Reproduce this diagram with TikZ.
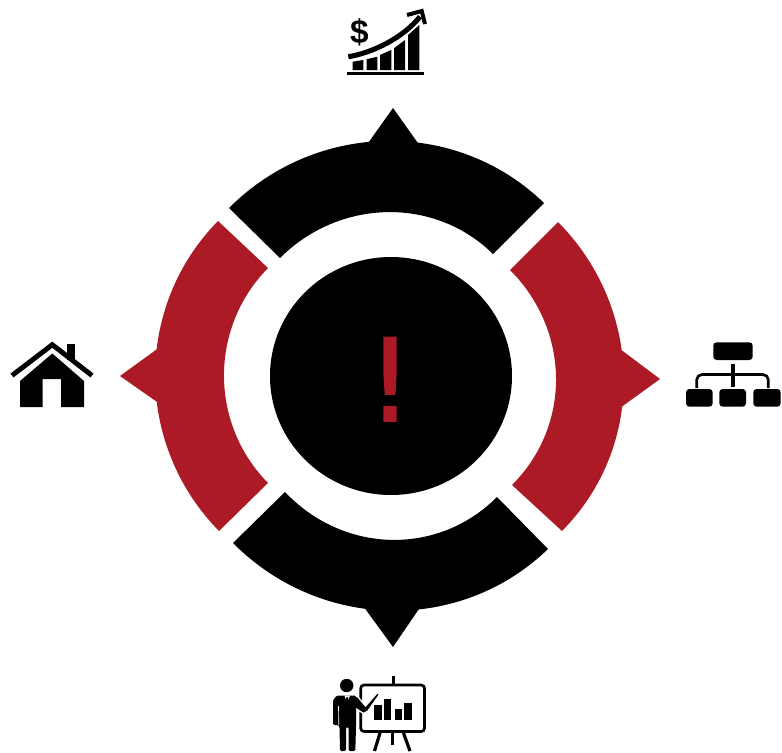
\documentclass[tikz,border=0pt]{standalone}
\usepackage{fontspec}
\setmainfont{DejaVu Sans}
\newfontfamily\markfont[FakeBold=1.5]{DejaVu Sans}
\newfontfamily\dollarfont{Liberation Sans}
\definecolor{brick}{HTML}{AC1A25}
\tikzset{
  ink/.style={fill=black,draw=none},
  brickfill/.style={fill=brick,draw=none},
  inkline/.style={draw=black,line cap=butt,line join=miter},
}
\begin{document}
\begin{tikzpicture}[x=0.75pt,y=-0.75pt]
\useasboundingbox (0,0) rectangle (782,753);
% ring segments
\path[ink] (229,208) .. controls (316.4,120.5) and (456.6,118.3) .. (544,203) -- (493,254)
  .. controls (434,196) and (339,199) .. (280,258) -- cycle;
\path[ink] (366,146) -- (393,108) -- (420,146) -- cycle;
\path[ink] (233,543) .. controls (320.4,631) and (460.6,633.5) .. (548,549) -- (497,497)
  .. controls (438.2,556) and (343.8,554) .. (285,492) -- cycle;
\path[ink] (361,603) -- (393,647) -- (423,603) -- cycle;
\path[brickfill] (218,221) .. controls (133.5,307) and (134.5,445) .. (219,531) -- (268,483)
  .. controls (209.3,423.3) and (209.3,327.7) .. (268,268) -- cycle;
\path[brickfill] (160,347) -- (120,376) -- (160,404) -- cycle;
\path[brickfill] (558,222) .. controls (643,307.7) and (647,445) .. (562,531) -- (512,485)
  .. controls (572,425) and (570,330) .. (510,270) -- cycle;
\path[brickfill] (620,349) -- (660,379) -- (620,408) -- cycle;
% centre
\path[ink] (391,376) ellipse [x radius=121,y radius=119];
\node[text=brick,inner sep=0pt,anchor=base] (mark) at (390,421) {\markfont\fontsize{86}{86}\selectfont !};
% top icon
\path[ink] (347,72) rectangle (424,75);
\path[ink] (352.7,61.7) -- (363.3,60) -- (363.3,70) -- (352.7,70) -- cycle;
\path[ink] (366.7,59.3) -- (377.3,56.7) -- (377.3,70) -- (366.7,70) -- cycle;
\path[ink] (380,55) -- (391.3,50) -- (391.3,70) -- (380,70) -- cycle;
\path[ink] (394,48.3) -- (405,40) -- (405,70) -- (394,70) -- cycle;
\path[ink] (408,35) -- (419.3,25) -- (419.3,70) -- (408,70) -- cycle;
\draw[draw=white,line width=5.4pt] (348.3,56.7) .. controls (372,53) and (403,38) .. (420,16.7);
\draw[inkline,line width=3.8pt] (348.3,56.7) .. controls (372,53) and (403,38) .. (420,16.7);
\draw[inkline,line width=3pt] (407,15) -- (421.7,11) -- (425,24);
\node[inner sep=0pt,anchor=center] (dollar) at (359.5,32) {\dollarfont\fontsize{25}{25}\selectfont\bfseries \$};
% house icon
\draw[inkline,line width=3.7pt] (12,375.5) -- (52.3,344.7) -- (92,375.5);
\path[ink] (66.7,344.3) rectangle (75,360);
\path[ink] (20,407) -- (20,381) -- (52.3,353.5) -- (84,381) -- (84,407) -- (61,407) -- (61,379) -- (42.7,379) -- (42.7,407) -- cycle;
% org icon
\path[ink,rounded corners=2.5pt] (713.3,342.3) rectangle (752.7,360);
\path[ink] (731,364) rectangle (734.7,387);
\draw[inkline,line width=2pt,rounded corners=4pt] (696.7,388) -- (696.7,374.5) -- (768.3,374.5) -- (768.3,388);
\path[ink,rounded corners=2.5pt] (686,389) rectangle (712.7,406.7);
\path[ink,rounded corners=2.5pt] (719.3,389) rectangle (746,406.7);
\path[ink,rounded corners=2.5pt] (753.3,389) rectangle (780.7,406.7);
% presenter icon
\draw[inkline,line width=2pt,rounded corners=2.5pt,fill=white] (360.7,685) rectangle (424.5,731.5);
\path[ink] (392,676) rectangle (394.5,684);
\path[ink] (374.3,705) rectangle (381.7,720);
\path[ink] (384,698.5) rectangle (391.3,720);
\path[ink] (394.7,708.5) rectangle (402,720);
\path[ink] (404.3,702.5) rectangle (411.7,720);
\draw[inkline,line width=2.4pt] (380,733) -- (374.5,751);
\draw[inkline,line width=2.4pt] (403.5,733) -- (410,751);
\draw[inkline,line width=2.4pt] (392.7,733) -- (392.7,745);
\path[fill=black,draw=white,line width=1pt] (355,696) -- (358,697) -- (365.5,706) -- (377.5,692.5) -- (379.5,694.5) -- (368,711) -- (363.5,713.5) -- (355,708) -- cycle;
\path[ink] (346.7,685.5) circle (6.7);
\path[ink,rounded corners=1pt] (333,700) -- (337,695.5) -- (356,695.5) -- (356,727) -- (355.3,751) -- (348.5,751) -- (348.5,727) -- (346,727) -- (346,751) -- (340,751) -- (339.5,727) -- (338.5,725) -- (333,725) -- cycle;
\path[fill=white] (344.5,695.5) -- (350,695.5) -- (347.2,703) -- cycle;
\path[ink] (346.3,697) -- (348.2,697) -- (348.6,706) -- (347.2,708) -- (345.9,706) -- cycle;
\draw[white,line width=0.5pt] (338.5,706) -- (338.8,725);
\end{tikzpicture}
\end{document}
